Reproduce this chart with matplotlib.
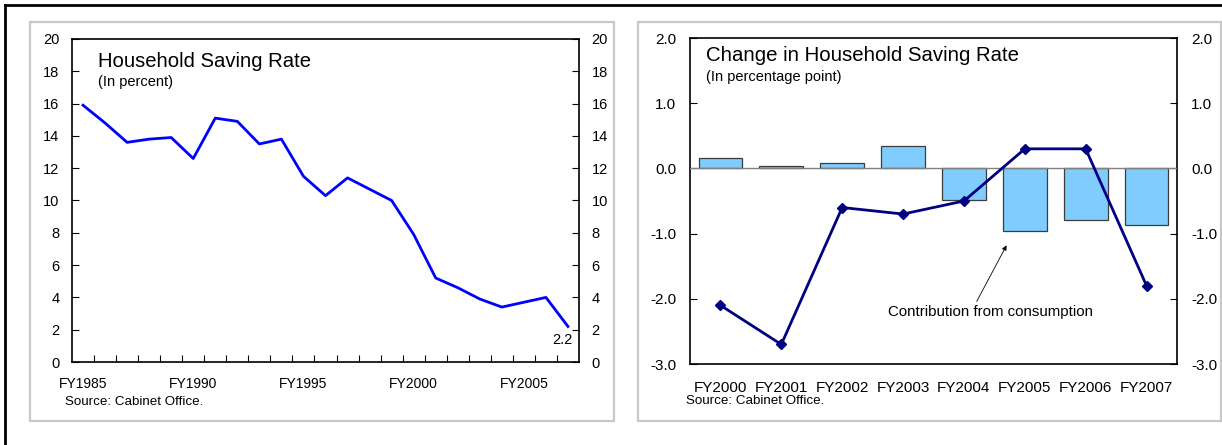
import numpy as np
import matplotlib
matplotlib.use("Agg")
import matplotlib.pyplot as plt
from matplotlib.patches import Rectangle
from matplotlib.lines import Line2D

plt.rcParams['font.family'] = ['Liberation Sans', 'DejaVu Sans']

# household saving rate, FY1985-FY2007 (percent)
years = list(range(1985, 2008))
rate = [15.9, 14.8, 13.6, 13.8, 13.9, 12.6, 15.1, 14.9, 13.5, 13.8, 11.5, 10.3,
        11.4, 10.7, 10.0, 7.9, 5.2, 4.6, 3.9, 3.4, 3.7, 4.0, 2.2]
year_labels = ["FY1985", "FY1990", "FY1995", "FY2000", "FY2005"]

# change in saving rate and consumption contribution (percentage point)
fy = ["FY2000", "FY2001", "FY2002", "FY2003", "FY2004", "FY2005", "FY2006", "FY2007"]
change = [-2.1, -2.7, -0.6, -0.7, -0.5, 0.3, 0.3, -1.8]
consumption = [0.16, 0.04, 0.08, 0.34, -0.49, -0.96, -0.79, -0.87]

W, H = 1222, 445
fig = plt.figure(figsize=(W / 100, H / 100), dpi=100)


def px(x0, y0, x1, y1):
    # pixel box (top-left origin) -> figure fraction rect
    return [x0 / W, 1 - y1 / H, (x1 - x0) / W, (y1 - y0) / H]


# outer border (top and left edges only)
fig.add_artist(Line2D([5 / W, 5 / W], [0, 1 - 5 / H], color='black', lw=2))
fig.add_artist(Line2D([5 / W, 1], [1 - 5 / H, 1 - 5 / H], color='black', lw=2))

# grey panel frames
for box in [(30, 22, 614, 421), (638, 22, 1221, 421)]:
    r = px(*box)
    fig.add_artist(Rectangle((r[0], r[1]), r[2], r[3], transform=fig.transFigure,
                             fill=False, edgecolor='#c8c8c8', lw=1.6))

# ---- left panel: saving rate ----
ax1 = fig.add_axes(px(72, 39, 579, 362))
ax1.plot(years, rate, color='#0000ff', lw=2)
ax1.set_xlim(1984.5, 2007.5)
ax1.set_ylim(0, 20)
ax1.set_yticks(np.arange(0, 21, 2))
ax1.set_xticks([int(s[2:]) for s in year_labels])
ax1.set_xticklabels(year_labels)
ax1.set_xticks(np.arange(1985.5, 2007, 1), minor=True)
ax1.tick_params(axis='x', which='major', length=0, pad=11, labelsize=10)
ax1.tick_params(axis='x', which='minor', direction='in', length=5, width=0.8)
ax1.tick_params(axis='y', direction='in', length=5, width=0.8, right=True,
                labelright=True, labelsize=10.5, pad=9)
for s in ax1.spines.values():
    s.set_linewidth(1.2)
ax1.text(0.051, 0.929, "Household Saving Rate", transform=ax1.transAxes,
         fontsize=14.6, va='center', ha='left')
ax1.text(0.051, 0.867, "(In percent)", transform=ax1.transAxes,
         fontsize=10.5, va='center', ha='left')
ax1.annotate(f"{rate[-1]}", xy=(years[-1], rate[-1]), xytext=(3, -10),
             textcoords='offset points', ha='right', va='center', fontsize=10.5)
fig.text(65 / W, 1 - 402 / H, "Source: Cabinet Office.", fontsize=9.6, va='center')

# ---- right panel: change in saving rate ----
ax2 = fig.add_axes(px(690, 38, 1177, 364))
xpos = np.arange(len(fy))
ax2.bar(xpos, consumption, width=0.72, color='#80ccff', edgecolor='#3c3c3c',
        lw=0.9, zorder=2)
ax2.axhline(0, color='#808080', lw=1, zorder=3)
ax2.plot(xpos, change, color='#000080', lw=2, marker='D', markersize=5, zorder=4)
ax2.set_xlim(-0.5, len(fy) - 0.5)
ax2.set_ylim(-3, 2)
ax2.set_yticks(np.arange(-3, 2.1, 1))
ax2.set_yticklabels([f"{v:.1f}" for v in np.arange(-3, 2.1, 1)])
ax2.set_xticks(xpos)
ax2.set_xticklabels(fy)
ax2.tick_params(axis='x', length=0, pad=12, labelsize=11)
ax2.tick_params(axis='y', direction='in', length=5, width=0.8, right=True,
                labelright=True, labelsize=11, pad=10)
for s in ax2.spines.values():
    s.set_linewidth(1.2)
ax2.text(0.033, 0.945, "Change in Household Saving Rate", transform=ax2.transAxes,
         fontsize=14.7, va='center', ha='left')
ax2.text(0.033, 0.880, "(In percentage point)", transform=ax2.transAxes,
         fontsize=10.5, va='center', ha='left')
ax2.text(4.43, -2.2, "Contribution from consumption", ha='center', va='center',
         fontsize=10.8)
ax2.annotate("", xy=(4.7, -1.18), xytext=(4.21, -2.04),
             arrowprops=dict(arrowstyle='-|>', color='black', lw=0.6,
                             mutation_scale=7, shrinkA=0, shrinkB=0))
fig.text(686 / W, 1 - 401 / H, "Source: Cabinet Office.", fontsize=9.6, va='center')

fig.savefig("out.png", dpi=100)
